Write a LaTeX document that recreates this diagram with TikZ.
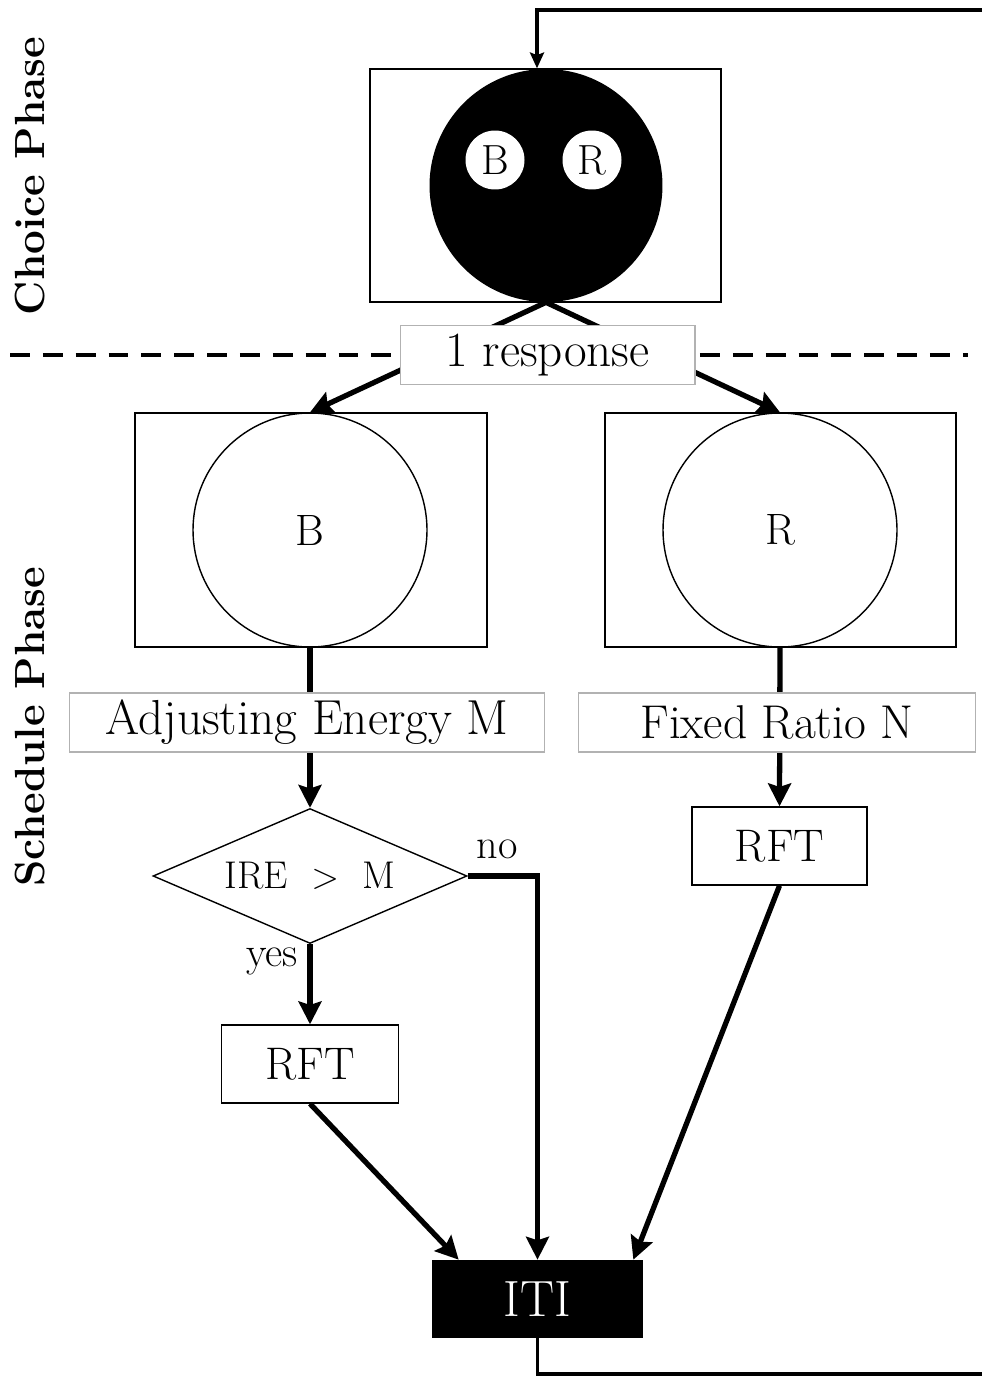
\documentclass[tikz,border=0pt]{standalone}
\usepackage{tikz}
\usetikzlibrary{arrows.meta,shapes.geometric}

\begin{document}
\begin{tikzpicture}[x=0.02cm,y=-0.02cm,>=Stealth,
  box/.style={draw,line width=0.8pt,inner sep=0pt},
  ring/.style={circle,draw,line width=0.8pt,inner sep=0pt,minimum size=4.68cm,font=\fontsize{25}{29}\selectfont},
  dot/.style={circle,fill=white,inner sep=0pt,minimum size=1.18cm,font=\fontsize{24}{28}\selectfont},
  tag/.style={draw=black!30,fill=white,line width=0.6pt,inner sep=0pt,minimum height=1.18cm},
  flow/.style={->,line width=3pt,>={Stealth[length=13pt,width=13pt,inset=2pt]}},
  back/.style={->,line width=1.8pt,>={Stealth[length=9pt,width=8pt,inset=1.5pt]}},
  phase/.style={rotate=90,font=\bfseries\fontsize{24}{28}\selectfont},
  small/.style={font=\fontsize{24}{28}\selectfont}]
  \useasboundingbox (0,0) rectangle (981,1376);
  % ---- choice phase ----
  \node[box,minimum width=7.02cm,minimum height=4.66cm] (top) at (545.5,185.5) {};
  \node[circle,fill=black,inner sep=0pt,minimum size=4.66cm] (disc) at (546,185.5) {};
  \node[dot] (dB) at (495,160) {B};
  \node[dot] (dR) at (592,160) {R};
  \node[phase] (chL) at (30,176) {Choice Phase};
  % ---- separator ----
  \coordinate (sepL) at (10,355); \coordinate (sepR) at (968,355);
  \draw[line width=2.6pt,dash pattern=on 11.3pt off 7.4pt] (sepL) -- (sepR);
  % ---- schedule phase ----
  \node[box,minimum width=7.04cm,minimum height=4.68cm] (boxB) at (311,530) {};
  \node[ring] (cB) at (310,530) {B};
  \node[box,minimum width=7.02cm,minimum height=4.68cm] (boxR) at (780.5,530) {};
  \node[ring] (cR) at (780,530) {R};
  \node[phase] (scL) at (30,727) {Schedule Phase};
  \node[diamond,draw,line width=0.8pt,inner sep=0pt,shape aspect=2.33,
    minimum width=6.28cm,minimum height=2.7cm,font=\fontsize{22}{26}\selectfont]
    (dec) at (310,876) {IRE \ $>$ \ M};
  \node[box,minimum width=3.54cm,minimum height=1.56cm,font=\fontsize{26}{30}\selectfont] (rftB) at (310,1064) {RFT};
  \node[box,minimum width=3.5cm,minimum height=1.56cm,font=\fontsize{26}{30}\selectfont] (rftR) at (779.5,846) {RFT};
  \node[fill=black,text=white,inner sep=0pt,minimum width=4.22cm,minimum height=1.56cm,
    font=\fontsize{29}{33}\selectfont] (iti) at (537.5,1299) {ITI};
  \node[small] (no) at (497,849) {no};
  \node[small] (yes) at (272,961) {yes};
  % ---- connectors ----
  \draw[flow] (disc.south) -- (cB.north);
  \draw[flow] (disc.south) -- (cR.north);
  \draw[flow] (cB.south) -- (dec.north);
  \draw[flow] (cR.south) -- (rftR.north);
  \draw[flow] (dec.south) -- (rftB.north);
  \draw[flow] (dec.east) -| (iti.north);
  \draw[flow] (rftB.south) -- ([xshift=0.54cm]iti.north west);
  \draw[flow] (rftR.south) -- ([xshift=-0.2cm]iti.north east);
  % labels over the connectors
  \node[tag,minimum width=5.9cm,font=\fontsize{28}{32}\selectfont] (resp) at (547.5,355) {1 response};
  \node[tag,minimum width=9.52cm,font=\fontsize{28}{32}\selectfont] (adj) at (307,722.5) {Adjusting Energy M};
  \node[tag,minimum width=7.96cm,font=\fontsize{27}{31}\selectfont] (fix) at (777,722.5) {Fixed Ratio N};
  % ---- back to the choice ----
  \coordinate (outB) at (990,1374); \coordinate (outT) at (990,10);
  \draw[back] (iti.south) |- (outB) -- (outT) -| ([xshift=-0.17cm]top.north);
\end{tikzpicture}
\end{document}
